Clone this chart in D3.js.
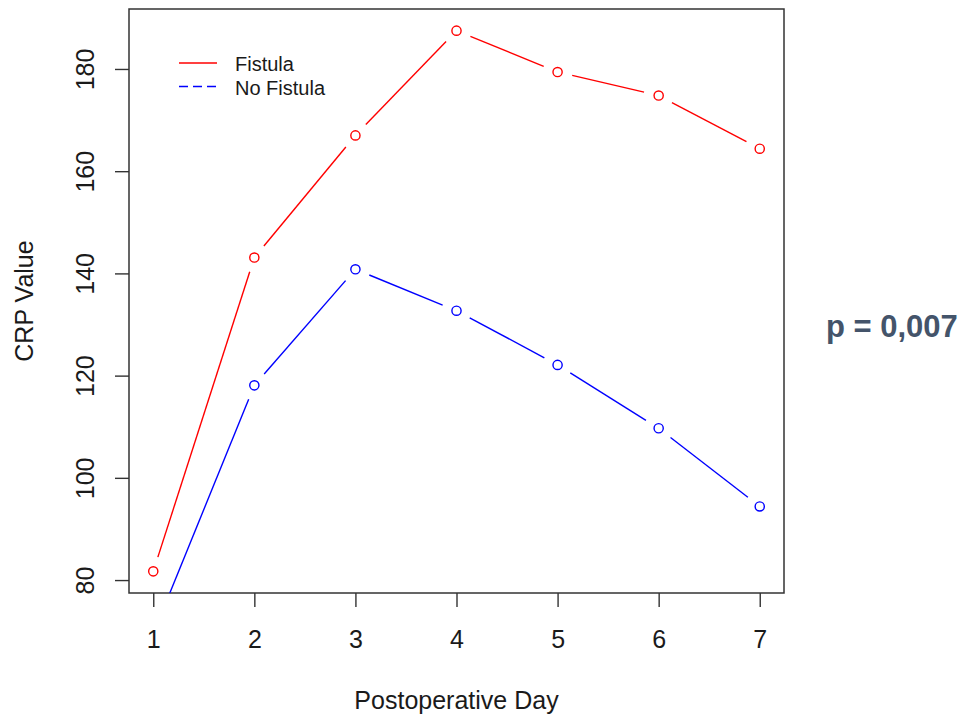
<!DOCTYPE html>
<html>
<head>
<meta charset="utf-8">
<script src="https://cdn.jsdelivr.net/npm/d3@7"></script>
<style>
  body { margin: 0; background: #fff; }
  text { font-family: "Liberation Sans", Arial, sans-serif; }
</style>
</head>
<body>
<div id="chart"></div>
<script>
// data
var days = [1, 2, 3, 4, 5, 6, 7];
var fistula = [81.7, 143.1, 167.0, 187.5, 179.4, 174.8, 164.4];
var noFistula = [69.5, 118.1, 140.8, 132.7, 122.1, 109.7, 94.4];
var yTicks = [80, 100, 120, 140, 160, 180];
var seriesNames = ["Fistula", "No Fistula"];
var seriesColors = ["#ff0000", "#0000ff"];
var pText = "p = 0,007";

var width = 964, height = 718,
    box = {left: 129, right: 784, top: 9, bottom: 593};

var svg = d3.select("#chart").append("svg")
    .attr("width", width).attr("height", height);

// R style 4% padding, y limits from the Fistula range
var xPad = (d3.max(days) - d3.min(days)) * 0.04;
var yExt = d3.extent(fistula), yPad = (yExt[1] - yExt[0]) * 0.04;

var x = d3.scaleLinear()
    .domain([d3.min(days) - xPad, d3.max(days) + xPad])
    .range([box.left, box.right]);
var y = d3.scaleLinear()
    .domain([yExt[0] - yPad, yExt[1] + yPad])
    .range([box.bottom, box.top]);

svg.append("defs").append("clipPath").attr("id", "plotClip")
    .append("rect")
    .attr("x", box.left).attr("y", box.top)
    .attr("width", box.right - box.left).attr("height", box.bottom - box.top);

// axes
var xAxis = svg.append("g")
    .attr("transform", "translate(0," + box.bottom + ")")
    .call(d3.axisBottom(x).tickValues(days).tickSize(14).tickFormat(d3.format("d")));
xAxis.select(".domain").remove();
xAxis.selectAll(".tick line").attr("stroke", "#333").attr("stroke-width", 1.4);
xAxis.selectAll(".tick text")
    .attr("y", 55).attr("dy", 0)
    .attr("fill", "#1a1a1a").style("font-size", "25px");

var yAxis = svg.append("g")
    .attr("transform", "translate(" + box.left + ",0)")
    .call(d3.axisLeft(y).tickValues(yTicks).tickSize(14));
yAxis.select(".domain").remove();
yAxis.selectAll(".tick line").attr("stroke", "#333").attr("stroke-width", 1.4);
yAxis.selectAll(".tick text")
    .attr("transform", "rotate(-90)")
    .attr("x", 0).attr("y", -35).attr("dy", 0)
    .attr("text-anchor", "middle")
    .attr("fill", "#1a1a1a").style("font-size", "25px");

// plot box
svg.append("rect")
    .attr("x", box.left).attr("y", box.top)
    .attr("width", box.right - box.left).attr("height", box.bottom - box.top)
    .attr("fill", "none").attr("stroke", "#333").attr("stroke-width", 1.5);

// axis titles
svg.append("text")
    .attr("x", (box.left + box.right) / 2).attr("y", 709)
    .attr("text-anchor", "middle").attr("fill", "#1a1a1a")
    .style("font-size", "25px")
    .text("Postoperative Day");

svg.append("text")
    .attr("transform", "translate(33," + (box.top + box.bottom) / 2 + ") rotate(-90)")
    .attr("text-anchor", "middle").attr("fill", "#1a1a1a")
    .style("font-size", "25px")
    .text("CRP Value");

// type = "b" : points with gaps in the connecting lines
var gap = 15;
function drawSeries(values, color) {
    var pts = days.map((d, i) => [x(d), y(values[i])]);
    var g = svg.append("g").attr("clip-path", "url(#plotClip)");
    var segs = d3.pairs(pts).map(p => {
        var dx = p[1][0] - p[0][0], dy = p[1][1] - p[0][1];
        var len = Math.sqrt(dx * dx + dy * dy);
        var ux = dx / len, uy = dy / len;
        return [[p[0][0] + ux * gap, p[0][1] + uy * gap],
                [p[1][0] - ux * gap, p[1][1] - uy * gap]];
    });
    g.selectAll(".seg").data(segs).enter().append("line")
        .attr("x1", d => d[0][0]).attr("y1", d => d[0][1])
        .attr("x2", d => d[1][0]).attr("y2", d => d[1][1])
        .attr("stroke", color).attr("stroke-width", 1.4);
    g.selectAll(".pt").data(pts).enter().append("circle")
        .attr("cx", d => d[0]).attr("cy", d => d[1]).attr("r", 4.6)
        .attr("fill", "none").attr("stroke", color).attr("stroke-width", 1.4);
}
drawSeries(fistula, seriesColors[0]);
drawSeries(noFistula, seriesColors[1]);

// legend
var legend = svg.append("g").attr("transform", "translate(179,63)");
var legendRow = legend.selectAll(".legendRow").data(seriesNames).enter().append("g")
    .attr("transform", (d, i) => "translate(0," + i * 23.5 + ")");
legendRow.append("line")
    .attr("x1", 0).attr("x2", 38).attr("y1", 0).attr("y2", 0)
    .attr("stroke", (d, i) => seriesColors[i]).attr("stroke-width", 1.4)
    .attr("stroke-dasharray", (d, i) => i == 1 ? "9,5" : null);
legendRow.append("text")
    .attr("x", 56).attr("y", 8)
    .attr("fill", "#1a1a1a").style("font-size", "20px")
    .text(d => d);

// p value note
svg.append("text")
    .attr("x", 826).attr("y", 337)
    .attr("fill", "#44546a").style("font-size", "31px").style("font-weight", "bold")
    .text(pText);
</script>
</body>
</html>
